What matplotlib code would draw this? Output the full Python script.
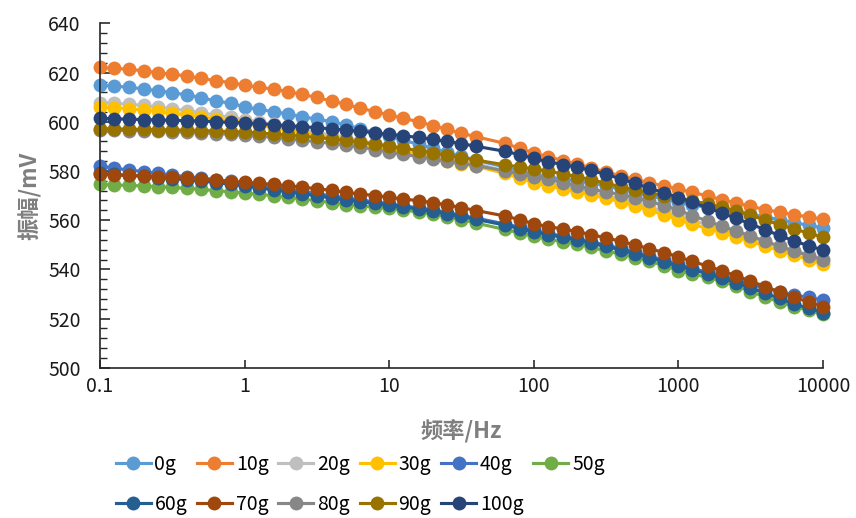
import matplotlib
matplotlib.use("Agg")
import matplotlib.pyplot as plt
from matplotlib.ticker import FixedLocator, MultipleLocator, NullLocator, FixedFormatter

plt.rcParams["font.family"] = ["Noto Sans CJK SC", "DejaVu Sans"]

# frequency points (Hz), 50 Hz is skipped in the measurement
freq = [0.1, 0.125, 0.16, 0.2, 0.25, 0.315, 0.4, 0.5, 0.63, 0.8,
        1, 1.25, 1.6, 2, 2.5, 3.15, 4, 5, 6.3, 8,
        10, 12.5, 16, 20, 25, 31.5, 40, 63, 80,
        100, 125, 160, 200, 250, 315, 400, 500, 630, 800,
        1000, 1250, 1600, 2000, 2500, 3150, 4000, 5000, 6300, 8000, 10000]

labels = ["0g", "10g", "20g", "30g", "40g", "50g", "60g", "70g", "80g", "90g", "100g"]
colors = ["#5B9BD5", "#ED7D31", "#BFBFBF", "#FFC000", "#4472C4", "#70AD47",
          "#255E91", "#9E480E", "#878787", "#997300", "#264478"]

amp_0g = [614.9, 614.5, 614.0, 613.3, 612.6, 611.8, 610.9, 609.8, 608.5, 607.5,
          606.1, 605.0, 604.1, 603.1, 602.0, 601.1, 600.0, 598.7, 597.2, 595.6,
          594.0, 592.5, 590.8, 589.2, 587.6, 586.0, 584.3, 581.6, 580.0,
          578.6, 577.6, 576.6, 575.9, 575.0, 573.9, 572.5, 571.2, 569.9, 568.5,
          567.2, 566.1, 565.2, 564.3, 563.4, 562.4, 561.3, 560.2, 559.0, 557.9, 556.8]
amp_10g = [622.1, 621.7, 621.3, 620.7, 619.9, 619.3, 618.6, 617.6, 616.7, 615.9,
           614.9, 614.0, 613.2, 612.2, 611.1, 609.9, 608.4, 607.1, 605.5, 604.1,
           602.7, 601.4, 600.0, 598.4, 596.9, 595.3, 593.9, 591.2, 589.2,
           587.3, 585.8, 584.2, 582.8, 581.2, 579.6, 578.0, 576.6, 575.2, 573.8,
           572.6, 571.3, 569.8, 568.3, 567.0, 565.6, 564.3, 563.2, 562.2, 561.3, 560.4]
amp_20g = [607.8, 607.5, 607.1, 606.6, 606.0, 605.3, 604.5, 603.6, 602.7, 601.8,
           600.9, 599.9, 598.9, 597.8, 596.7, 595.6, 594.5, 593.4, 592.3, 591.2,
           590.0, 588.8, 587.6, 586.4, 585.2, 584.0, 582.9, 580.0, 578.2,
           576.5, 575.1, 573.8, 572.5, 571.2, 569.9, 568.5, 566.9, 565.2, 563.4,
           561.5, 559.8, 558.1, 556.4, 554.7, 552.9, 551.0, 549.3, 547.6, 545.9, 544.2]
amp_30g = [606.0, 605.7, 605.3, 604.8, 604.2, 603.5, 602.8, 602.0, 601.2, 600.4,
           599.5, 598.6, 597.6, 596.6, 595.5, 594.4, 593.3, 592.2, 591.1, 590.0,
           588.9, 587.7, 586.5, 585.3, 584.1, 583.0, 581.9, 579.0, 577.1,
           575.3, 573.9, 572.7, 571.5, 570.2, 568.9, 567.5, 565.8, 564.0, 562.1,
           560.1, 558.3, 556.6, 554.9, 553.2, 551.4, 549.4, 547.6, 545.8, 543.9, 542.0]
amp_40g = [582.0, 581.1, 580.4, 579.7, 579.0, 578.3, 577.7, 577.1, 576.5, 575.8,
           575.0, 574.2, 573.4, 572.6, 571.7, 570.8, 569.9, 569.0, 568.2, 567.4,
           566.6, 565.8, 565.0, 564.1, 563.1, 562.0, 560.8, 558.5, 557.1,
           555.8, 554.6, 553.5, 552.4, 551.2, 549.9, 548.5, 547.0, 545.4, 543.7,
           542.0, 540.4, 538.8, 537.2, 535.6, 534.0, 532.4, 530.9, 529.6, 528.6, 527.5]
amp_50g = [574.5, 574.3, 574.1, 573.9, 573.6, 573.3, 572.9, 572.5, 572.0, 571.5,
           571.0, 570.5, 569.9, 569.3, 568.6, 567.9, 567.1, 566.3, 565.8, 565.3,
           564.8, 564.1, 563.3, 562.4, 561.4, 560.2, 558.8, 556.2, 554.8,
           553.4, 552.2, 551.2, 550.2, 548.9, 547.5, 546.1, 544.8, 543.3, 541.5,
           539.5, 538.1, 536.7, 535.1, 533.3, 531.0, 528.7, 526.7, 524.9, 523.3, 521.8]
amp_60g = [579.0, 578.6, 578.2, 577.8, 577.3, 576.9, 576.4, 575.9, 575.3, 574.6,
           573.9, 573.1, 572.3, 571.5, 570.7, 569.9, 569.0, 568.1, 567.5, 566.8,
           566.1, 565.3, 564.5, 563.6, 562.6, 561.5, 560.3, 558.0, 556.6,
           555.3, 554.1, 553.0, 551.9, 550.6, 549.3, 547.9, 546.4, 544.8, 543.0,
           541.3, 539.8, 538.2, 536.5, 534.6, 532.5, 530.3, 528.2, 526.0, 524.2, 522.4]
amp_70g = [578.6, 578.4, 578.2, 578.0, 577.7, 577.4, 577.0, 576.6, 576.2, 575.7,
           575.4, 575.0, 574.5, 574.0, 573.4, 572.8, 572.1, 571.3, 570.6, 570.0,
           569.3, 568.6, 567.9, 567.1, 566.2, 565.1, 563.9, 561.7, 560.2,
           558.5, 557.4, 556.4, 555.3, 554.1, 552.8, 551.4, 549.9, 548.4, 546.8,
           545.1, 543.2, 541.3, 539.4, 537.4, 535.2, 533.0, 530.8, 528.6, 526.7, 524.8]
amp_80g = [596.6, 596.5, 596.4, 596.3, 596.1, 595.9, 595.7, 595.5, 595.2, 594.9,
           594.5, 594.1, 593.6, 593.1, 592.5, 591.9, 591.2, 590.5, 589.7, 588.7,
           587.7, 586.7, 585.8, 584.9, 584.0, 583.1, 582.2, 580.0, 578.8,
           577.6, 576.6, 575.3, 573.8, 572.6, 571.5, 570.4, 569.1, 567.6, 565.9,
           564.1, 561.8, 559.6, 557.6, 555.6, 553.6, 551.4, 549.4, 547.4, 545.6, 543.8]
amp_90g = [597.2, 597.1, 597.0, 596.9, 596.8, 596.7, 596.6, 596.4, 596.2, 596.0,
           595.8, 595.4, 595.0, 594.6, 594.1, 593.6, 593.0, 592.4, 591.7, 590.9,
           590.0, 589.2, 588.3, 587.4, 586.4, 585.4, 584.4, 582.5, 581.6,
           580.8, 579.9, 578.8, 577.6, 576.4, 575.0, 573.6, 572.2, 571.0, 569.9,
           568.9, 567.8, 566.6, 565.3, 563.8, 562.0, 560.0, 558.2, 556.4, 554.7, 553.0]
amp_100g = [601.4, 601.2, 601.0, 600.9, 600.7, 600.6, 600.4, 600.3, 600.0, 599.7,
            599.5, 599.2, 598.8, 598.4, 598.0, 597.6, 597.1, 596.6, 596.1, 595.5,
            594.9, 594.3, 593.6, 592.8, 592.0, 591.1, 590.0, 588.0, 586.6,
            585.1, 583.7, 582.6, 581.5, 580.2, 578.6, 576.8, 574.9, 573.0, 571.1,
            569.2, 567.2, 565.0, 562.9, 560.7, 558.5, 556.0, 553.8, 551.5, 549.6, 547.8]

series = [amp_0g, amp_10g, amp_20g, amp_30g, amp_40g, amp_50g,
          amp_60g, amp_70g, amp_80g, amp_90g, amp_100g]

fig = plt.figure(figsize=(8.56, 5.18), dpi=100)
ax = fig.add_axes([0.1168, 0.290, 0.8447, 0.665])

handles = []
for vals, lab, col in zip(series, labels, colors):
    h, = ax.plot(freq, vals, color=col, lw=2.25, marker="o", markersize=10,
                 markeredgewidth=0, label=lab, clip_on=False)
    handles.append(h)

ax.set_xscale("log")
ax.set_xlim(0.1, 10000)
ax.set_ylim(500, 640)

xt = [0.1, 1, 10, 100, 1000, 10000]
ax.xaxis.set_major_locator(FixedLocator(xt))
ax.xaxis.set_major_formatter(FixedFormatter(["0.1", "1", "10", "100", "1000", "10000"]))
ax.xaxis.set_minor_locator(NullLocator())
ax.yaxis.set_major_locator(MultipleLocator(20))
ax.yaxis.set_minor_locator(MultipleLocator(4))

for s in ["top", "right"]:
    ax.spines[s].set_visible(False)
for s in ["left", "bottom"]:
    ax.spines[s].set_color("#262626")
    ax.spines[s].set_linewidth(1.2)

ax.tick_params(axis="y", which="major", direction="in", length=7, width=1.1,
               pad=14, labelsize=14, colors="#1a1a1a")
ax.tick_params(axis="y", which="minor", direction="in", length=5, width=1.0,
               colors="#262626")
ax.tick_params(axis="x", which="major", direction="in", length=6, width=1.1,
               pad=6, labelsize=14, colors="#1a1a1a")

ax.set_xlabel("频率/Hz", fontsize=16, fontweight="bold", color="#7F7F7F", labelpad=16)
ax.set_ylabel("振幅/mV", fontsize=16, fontweight="bold", color="#7F7F7F", labelpad=4)

# legend fills column by column, so reorder to read row by row (6 per row)
order = [0, 6, 1, 7, 2, 8, 3, 9, 4, 10, 5]
fig.legend([handles[i] for i in order], [labels[i] for i in order],
           loc="upper left", bbox_to_anchor=(0.135, 0.124), ncol=6, frameon=False,
           fontsize=14, handlelength=1.8, handletextpad=0.2, columnspacing=0.5,
           labelspacing=1.0, borderpad=0, borderaxespad=0)

fig.savefig("out.png", dpi=100)
